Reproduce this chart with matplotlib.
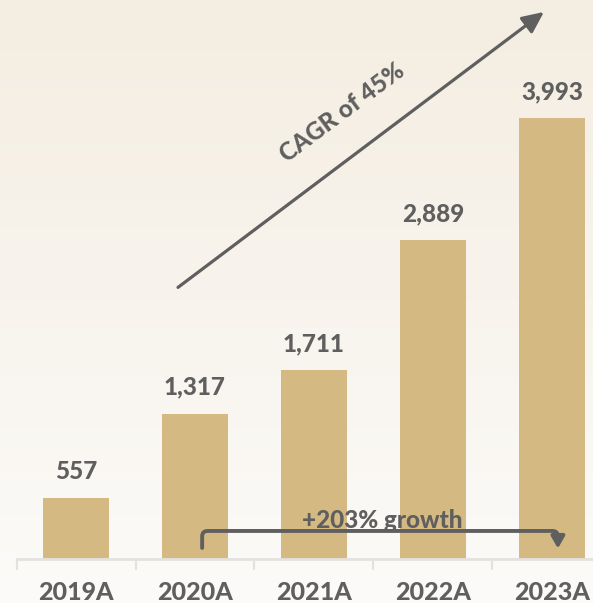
import numpy as np
import matplotlib
matplotlib.use("Agg")
from matplotlib import pyplot as plt
from matplotlib.path import Path
from matplotlib.patches import FancyArrowPatch

years = ["2019A", "2020A", "2021A", "2022A", "2023A"]
values = [557, 1317, 1711, 2889, 3993]
cagr_label = "CAGR of 45%"
growth_label = "+203% growth"

bar_color = "#D4B982"
text_color = "#5F5F5F"
plt.rcParams['font.family'] = ['Lato', 'DejaVu Sans']
W = 'black'

fig = plt.figure(figsize=(5.93, 6.03), dpi=100)

# background gradient (beige top -> almost white bottom)
bg = fig.add_axes([0, 0, 1, 1], zorder=0)
top = np.array([244, 237, 225]) / 255
bot = np.array([252, 251, 249]) / 255
t = np.linspace(0, 1, 256)[:, None]
grad = top[None, :] * (1 - t) + bot[None, :] * t
bg.imshow(grad[:, None, :], aspect='auto', extent=[0, 1, 0, 1])
bg.axis('off')

ax = fig.add_axes([0, 44 / 603, 1, 559 / 603], zorder=1)
ax.patch.set_alpha(0)
x = np.arange(len(years))
ax.bar(x, values, width=0.555, color=bar_color, zorder=2)

for xi, v in zip(x, values):
    ax.text(xi, v + 135, f"{v:,}", ha='center', va='bottom', fontsize=17.5,
            color=text_color, fontweight=W)

for s in ['top', 'left', 'right']:
    ax.spines[s].set_visible(False)
ax.spines['bottom'].set_bounds(-0.5, 4.5)
ax.spines['bottom'].set_color('#E4E2DF')
ax.spines['bottom'].set_linewidth(2)
ax.set_yticks([])
ax.set_xticks(x)
ax.set_xticklabels(years, fontsize=18, color=text_color, fontweight=W)
ax.set_xticks(np.arange(-0.5, 5, 1), minor=True)
ax.tick_params(axis='x', which='major', length=0, pad=16)
ax.tick_params(axis='x', which='minor', length=8, width=1.5, color='#E4E2DF')
# limits after ticks, otherwise set_xticks widens them
ax.set_xlim(-0.639, 4.345)
ax.set_ylim(0, 5063)

# CAGR arrow
ax.annotate("", xy=(3.933, 4955), xytext=(0.857, 2460),
            arrowprops=dict(arrowstyle='-|>,head_length=1.3,head_width=0.6',
                            color=text_color, lw=2.3, shrinkA=0, shrinkB=0),
            zorder=3)
ax.text(2.24, 4040, cagr_label, rotation=36.7, rotation_mode='anchor',
        ha='center', va='center', fontsize=17.5, color=text_color, fontweight=W)

# growth bracket
x0, x1 = 1.06, 4.05
yb, yt = 100, 254
rx, ry = 0.045, 50
verts = [(x0, yb), (x0, yt - ry), (x0, yt), (x0 + rx, yt),
         (x1 - rx, yt), (x1, yt), (x1, yt - ry), (x1, 95)]
codes = [Path.MOVETO, Path.LINETO, Path.CURVE3, Path.CURVE3,
         Path.LINETO, Path.CURVE3, Path.CURVE3, Path.LINETO]
bracket = FancyArrowPatch(path=Path(verts, codes),
                          arrowstyle='-|>,head_length=7,head_width=4',
                          color=text_color, lw=2.8, zorder=3,
                          transform=ax.transData)
ax.add_patch(bracket)
ax.text(2.571, 345, growth_label, ha='center', va='center', fontsize=17.5,
        color=text_color, fontweight=W, zorder=4)

fig.savefig("out.png", dpi=100)
